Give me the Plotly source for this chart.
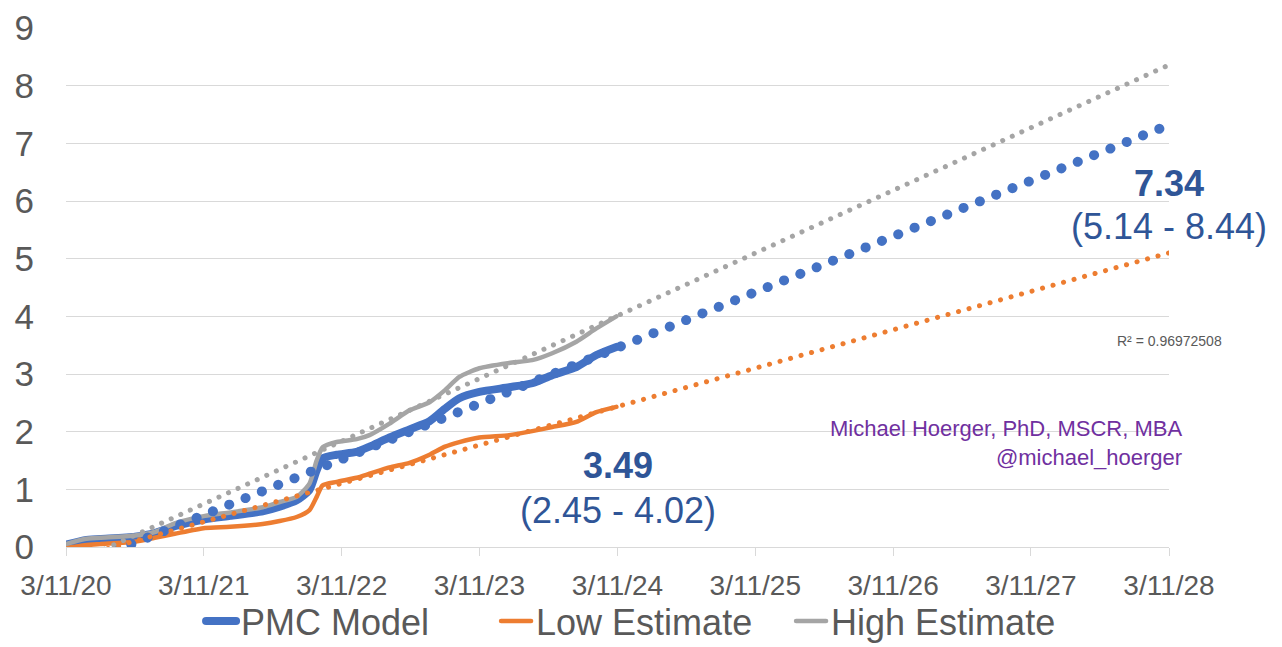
import plotly.graph_objects as go

# ---- data ----
dates = ["2020-03-11", "2020-04-30", "2020-06-09", "2020-09-10", "2020-11-01", "2020-12-24",
         "2021-03-14", "2021-05-20", "2021-08-14", "2021-09-28", "2021-11-12", "2021-12-16",
         "2022-01-04", "2022-01-20", "2022-02-26", "2022-04-20", "2022-05-24", "2022-07-16",
         "2022-09-07", "2022-10-30", "2022-12-10", "2023-01-17", "2023-03-11", "2023-05-29",
         "2023-07-29", "2023-09-20", "2023-11-23", "2024-01-15", "2024-03-08"]

pmc_model = [0.04, 0.12, 0.14, 0.18, 0.24, 0.36,
             0.48, 0.54, 0.62, 0.70, 0.81, 0.99,
             1.33, 1.54, 1.60, 1.65, 1.74, 1.90,
             2.04, 2.18, 2.40, 2.58, 2.69, 2.77,
             2.84, 2.98, 3.12, 3.33, 3.47]

low_estimate = [-0.02, 0.03, 0.05, 0.09, 0.16, 0.23,
                0.33, 0.35, 0.40, 0.45, 0.52, 0.64,
                0.87, 1.07, 1.13, 1.20, 1.27, 1.38,
                1.46, 1.60, 1.74, 1.82, 1.90, 1.94,
                2.01, 2.08, 2.17, 2.34, 2.43]

high_estimate = [0.05, 0.14, 0.16, 0.20, 0.26, 0.41,
                 0.54, 0.60, 0.69, 0.78, 0.87, 1.10,
                 1.50, 1.73, 1.82, 1.87, 1.94, 2.14,
                 2.37, 2.51, 2.72, 2.95, 3.10, 3.19,
                 3.24, 3.36, 3.56, 3.79, 4.00]

# linear trend lines (start / end values)
trend_dates = ["2020-03-11", "2028-03-11"]
pmc_trend = [-0.41, 7.32]
low_trend = [-0.23, 5.10]
high_trend = [-0.34, 8.36]

tick_dates = ["2020-03-11", "2021-03-11", "2022-03-11", "2023-03-11", "2024-03-11",
              "2025-03-11", "2026-03-11", "2027-03-11", "2028-03-11"]
tick_labels = ["3/11/20", "3/11/21", "3/11/22", "3/11/23", "3/11/24",
               "3/11/25", "3/11/26", "3/11/27", "3/11/28"]

BLUE = "#4472C4"
ORANGE = "#ED7D31"
GRAY = "#A5A5A5"
TXT = "#595959"
FONT = "Liberation Sans, Arial, sans-serif"

fig = go.Figure()
fig.add_trace(go.Scatter(x=dates, y=pmc_model, mode="lines", name="PMC Model",
                         line=dict(color=BLUE, width=8, shape="spline", smoothing=0.6)))
fig.add_trace(go.Scatter(x=dates, y=low_estimate, mode="lines", name="Low Estimate",
                         line=dict(color=ORANGE, width=4.5, shape="spline", smoothing=0.6)))
fig.add_trace(go.Scatter(x=dates, y=high_estimate, mode="lines", name="High Estimate",
                         line=dict(color=GRAY, width=4.5, shape="spline", smoothing=0.6)))

fig.add_trace(go.Scatter(x=trend_dates, y=pmc_trend, mode="lines", showlegend=False,
                         line=dict(color=BLUE, width=10, dash="0.1px,17.5px")))
fig.add_trace(go.Scatter(x=trend_dates, y=low_trend, mode="lines", showlegend=False,
                         line=dict(color=ORANGE, width=5, dash="0.1px,10.8px")))
fig.add_trace(go.Scatter(x=trend_dates, y=high_trend, mode="lines", showlegend=False,
                         line=dict(color=GRAY, width=5, dash="0.1px,10.4px")))

annotations = [
    dict(x="2028-03-11", y=6.31, text="<b>7.34</b>", font=dict(size=36, color="#2F5597")),
    dict(x="2028-03-11", y=5.56, text="(5.14 - 8.44)", font=dict(size=36, color="#2F5597")),
    dict(x="2024-03-11", y=1.41, text="<b>3.49</b>", font=dict(size=36, color="#2F5597")),
    dict(x="2024-03-11", y=0.64, text="(2.45 - 4.02)", font=dict(size=36, color="#2F5597")),
    dict(x="2028-03-11", y=3.57, text="R² = 0.96972508", font=dict(size=14, color=TXT)),
]
for a in annotations:
    a.update(xref="x", yref="y", showarrow=False, font=dict(family=FONT, **a["font"]))

annotations.append(dict(xref="paper", yref="paper", x=1.0137, y=0.2, xanchor="right", yanchor="middle",
                        showarrow=False, align="right",
                        text="Michael Hoerger, PhD, MSCR, MBA<br>@michael_hoerger",
                        font=dict(family=FONT, size=22, color="#7030A0")))

fig.update_layout(
    width=1282, height=647,
    margin=dict(l=66, r=113, t=28, b=100, autoexpand=False),
    paper_bgcolor="white", plot_bgcolor="white",
    font=dict(family=FONT, color=TXT),
    annotations=annotations,
    showlegend=True,
    legend=dict(orientation="h", xref="container", yref="container", x=0.502, y=0.04,
                xanchor="center", yanchor="middle", font=dict(size=36, color=TXT),
                bgcolor="rgba(0,0,0,0)",
                itemwidth=30, tracegroupgap=0, entrywidth=250, entrywidthmode="pixels"),
    xaxis=dict(type="date", range=["2020-03-11", "2028-03-11"], tickvals=tick_dates, ticktext=tick_labels,
               showgrid=False, zeroline=False, showline=True, linecolor="#D9D9D9", linewidth=1,
               ticks="outside", ticklen=8, tickcolor="#D9D9D9", tickfont=dict(size=28, color=TXT),
               ticklabelstandoff=5),
    yaxis=dict(range=[0, 9], dtick=1, tick0=0, showgrid=True, gridcolor="#D9D9D9", gridwidth=1,
               zeroline=False, showline=False, ticks="", tickfont=dict(size=35, color=TXT),
               ticklabelstandoff=31),
)

post = ("document.body.style.margin='0';"
        "var s=document.createElement('style');"
        "s.textContent='body{margin:0;overflow:hidden;} .js-line{stroke-linecap:round;}';"
        "document.head.appendChild(s);")
fig.write_html("out.html", post_script=post, config={"displayModeBar": False})
